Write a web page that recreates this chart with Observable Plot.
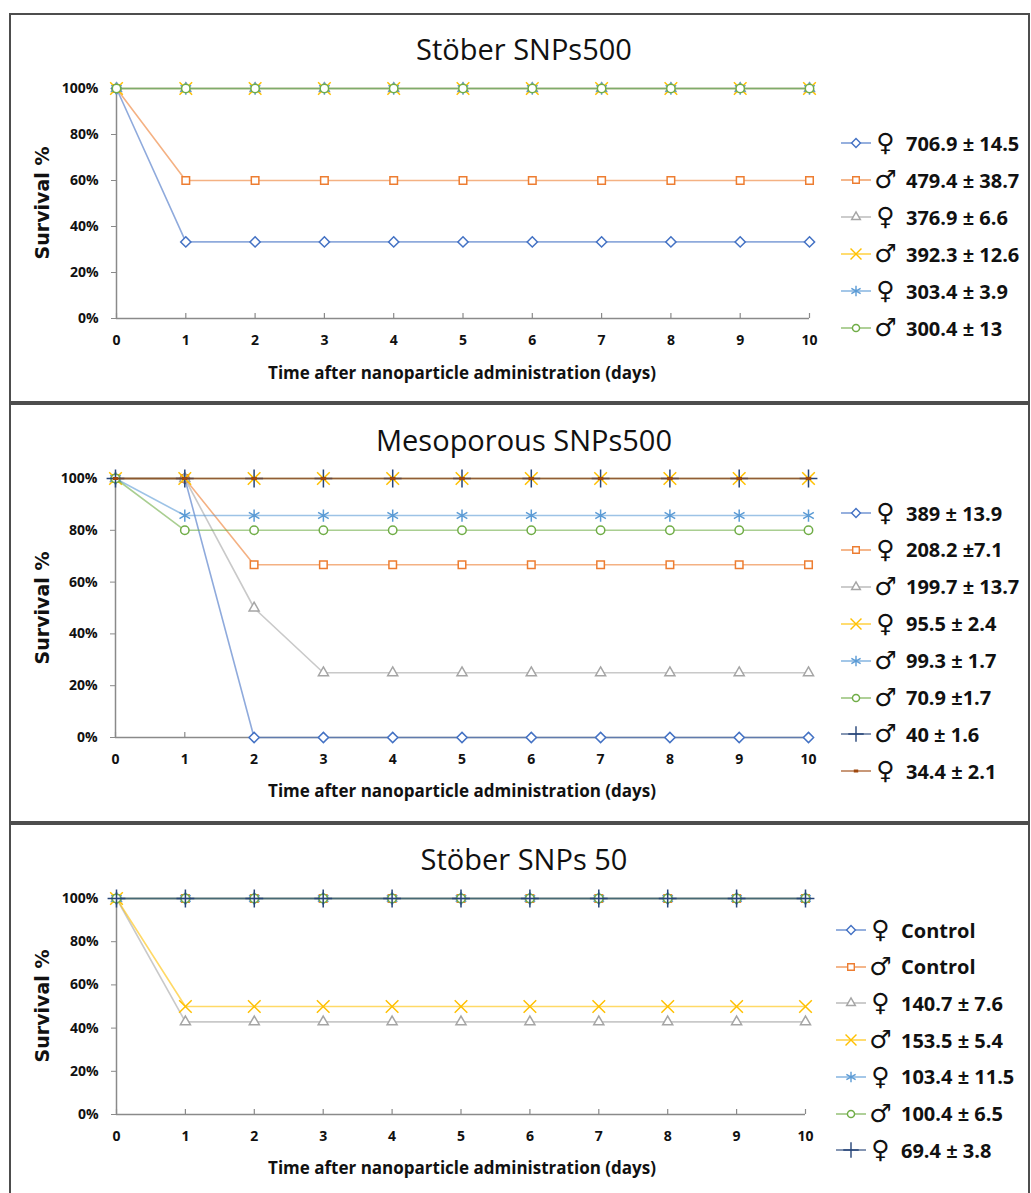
<!DOCTYPE html>
<html><head><meta charset="utf-8">
<script src="https://cdn.jsdelivr.net/npm/d3@7"></script>
<script src="https://cdn.jsdelivr.net/npm/@observablehq/plot@0.6"></script>
<style>
body{margin:0;background:#fff;width:1031px;height:1193px;position:relative;overflow:hidden;font-family:"Open Sans",sans-serif;color:#111}
.panel{position:absolute;left:9px;width:1021px;border:2px solid #4d4d4d;box-sizing:border-box}
.title{position:absolute;font-size:29px;transform:translate(-50%,-50%);white-space:nowrap;color:#111}
.xt{position:absolute;font-weight:bold;font-size:17px;transform:translate(-50%,-50%);white-space:nowrap}
.yt{position:absolute;font-family:"DejaVu Sans",sans-serif;font-weight:bold;font-size:19px;transform:translate(-50%,-50%) rotate(-90deg);white-space:nowrap}
.plot{position:absolute;left:0}
.leg{position:absolute;display:flex;align-items:center;height:30px;transform:translateY(-50%);white-space:nowrap}
.leg svg{display:block}
.sex{font-family:"DejaVu Sans",sans-serif;font-weight:bold;font-size:25px;width:29px;text-align:center;line-height:30px}
.lt{font-weight:bold;font-size:20px;margin-left:6px}
</style></head>
<body>
<script>
// ---- shared ----
const days = [0, 1, 2, 3, 4, 5, 6, 7, 8, 9, 10];
const yTicks = [0, 20, 40, 60, 80, 100];
const colors = ["#4472C4", "#ED7D31", "#A5A5A5", "#FFC000", "#5B9BD5", "#70AD47", "#264478", "#9E480E"];
const symbolNames = ["diamond2", "square2", "triangle2", "times", "asterisk", "circle", "plus", "dash"];
const xTitle = "Time after nanoparticle administration (days)";
const yTitle = "Survival %";

// ---- panel 1: Stöber SNPs500 ----
const p1Title = "Stöber SNPs500";
const p1Sex = ["♀", "♂", "♀", "♂", "♀", "♂"];
const p1Labels = ["706.9 ± 14.5", "479.4 ± 38.7", "376.9 ± 6.6", "392.3 ± 12.6", "303.4 ± 3.9", "300.4 ± 13"];
const p1Values = [
  [100, 33.3, 33.3, 33.3, 33.3, 33.3, 33.3, 33.3, 33.3, 33.3, 33.3],
  [100, 60, 60, 60, 60, 60, 60, 60, 60, 60, 60],
  [100, 100, 100, 100, 100, 100, 100, 100, 100, 100, 100],
  [100, 100, 100, 100, 100, 100, 100, 100, 100, 100, 100],
  [100, 100, 100, 100, 100, 100, 100, 100, 100, 100, 100],
  [100, 100, 100, 100, 100, 100, 100, 100, 100, 100, 100]
];

// ---- panel 2: Mesoporous SNPs500 ----
const p2Title = "Mesoporous SNPs500";
const p2Sex = ["♀", "♀", "♂", "♀", "♂", "♂", "♂", "♀"];
const p2Labels = ["389 ± 13.9", "208.2 ±7.1", "199.7 ± 13.7", "95.5 ± 2.4", "99.3 ± 1.7", "70.9 ±1.7", "40 ± 1.6", "34.4 ± 2.1"];
const p2Values = [
  [100, 100, 0, 0, 0, 0, 0, 0, 0, 0, 0],
  [100, 100, 66.7, 66.7, 66.7, 66.7, 66.7, 66.7, 66.7, 66.7, 66.7],
  [100, 100, 50, 25, 25, 25, 25, 25, 25, 25, 25],
  [100, 100, 100, 100, 100, 100, 100, 100, 100, 100, 100],
  [100, 85.7, 85.7, 85.7, 85.7, 85.7, 85.7, 85.7, 85.7, 85.7, 85.7],
  [100, 80, 80, 80, 80, 80, 80, 80, 80, 80, 80],
  [100, 100, 100, 100, 100, 100, 100, 100, 100, 100, 100],
  [100, 100, 100, 100, 100, 100, 100, 100, 100, 100, 100]
];

// ---- panel 3: Stöber SNPs 50 ----
const p3Title = "Stöber SNPs 50";
const p3Sex = ["♀", "♂", "♀", "♂", "♀", "♂", "♀"];
const p3Labels = ["Control", "Control", "140.7 ± 7.6", "153.5 ± 5.4", "103.4 ± 11.5", "100.4 ± 6.5", "69.4 ± 3.8"];
const p3Values = [
  [100, 100, 100, 100, 100, 100, 100, 100, 100, 100, 100],
  [100, 100, 100, 100, 100, 100, 100, 100, 100, 100, 100],
  [100, 42.9, 42.9, 42.9, 42.9, 42.9, 42.9, 42.9, 42.9, 42.9, 42.9],
  [100, 50, 50, 50, 50, 50, 50, 50, 50, 50, 50],
  [100, 100, 100, 100, 100, 100, 100, 100, 100, 100, 100],
  [100, 100, 100, 100, 100, 100, 100, 100, 100, 100, 100],
  [100, 100, 100, 100, 100, 100, 100, 100, 100, 100, 100]
];

// custom dash symbol
const dashSymbol = {draw(ctx, size) { const w = Math.sqrt(size) * 0.35; ctx.moveTo(-w, 0); ctx.lineTo(w, 0); }};
const plotSymbol = name => name === "dash" ? dashSymbol : name;
const d3Symbols = {diamond2: d3.symbolDiamond2, square2: d3.symbolSquare2, triangle2: d3.symbolTriangle2, times: d3.symbolTimes, asterisk: d3.symbolAsterisk, circle: d3.symbolCircle, plus: d3.symbolPlus, dash: dashSymbol};
const symbolR = {diamond2: 4.6, square2: 4.8, triangle2: 4.8, times: 5.8, asterisk: 5.8, circle: 4.2, plus: 5.8, dash: 4.5};
const legSize = {diamond2: 50, square2: 55, triangle2: 55, times: 80, asterisk: 80, circle: 40, plus: 80, dash: 40};

const axisGray = "#8a8a8a";

function panel(cfg) {
  const {boxTop, boxHeight, title, titleY, x0, x10, y100, y0, xTitleY, sex, labels, values, legX, legY, legStep} = cfg;
  const box = document.createElement("div");
  box.className = "panel";
  box.style.top = boxTop + "px";
  box.style.height = boxHeight + "px";
  document.body.appendChild(box);

  const t = document.createElement("div");
  t.className = "title"; t.textContent = title;
  t.style.left = "524px"; t.style.top = titleY + "px";
  document.body.appendChild(t);

  const W = 840, mt = 30, mb = 45;
  const innerH = y0 - y100;
  const H = innerH + mt + mb;
  const rows = values.flatMap((vals, i) => days.map((d, j) => ({day: d, value: vals[j], s: i})));
  const marks = [
    Plot.ruleX([0], {stroke: axisGray, strokeWidth: 1.5}),
    Plot.ruleY([0], {stroke: axisGray, strokeWidth: 1.5}),
    Plot.tickX(days, {x: d => d, stroke: axisGray, strokeWidth: 1.2, insetTop: innerH - 5}),
    Plot.axisY({ticks: yTicks, tickFormat: d => d + "%", tickSize: 5, tickPadding: 13, stroke: axisGray, label: null}),
    Plot.axisX({ticks: days, tickFormat: d => String(d), tickSize: 0, tickPadding: 17, label: null})
  ];
  values.forEach((vals, i) => {
    const data = rows.filter(r => r.s === i);
    marks.push(Plot.line(data, {x: "day", y: "value", stroke: colors[i], strokeWidth: 1.6, strokeOpacity: 0.6}));
    const sym = symbolNames[i];
    const filled = ["diamond2", "square2", "triangle2", "circle"].includes(sym);
    marks.push(Plot.dot(data, {x: "day", y: "value", symbol: () => plotSymbol(sym), r: symbolR[sym],
      stroke: colors[i], fill: filled ? "white" : "none", strokeWidth: sym === "dash" ? 3 : 1.5}));
  });
  const p = Plot.plot({
    width: W, height: H,
    marginLeft: x0, marginRight: W - x10, marginTop: mt, marginBottom: mb,
    x: {domain: [0, 10]}, y: {domain: [0, 100]},
    symbol: {type: "identity"},
    style: {fontFamily: "'Open Sans', sans-serif", fontSize: "14px", fontWeight: "bold", color: "#111", background: "transparent", overflow: "visible"},
    marks
  });
  p.classList.add("plot");
  p.style.top = (y100 - mt) + "px";
  document.body.appendChild(p);

  const xt = document.createElement("div");
  xt.className = "xt"; xt.textContent = xTitle;
  xt.style.left = "462px"; xt.style.top = xTitleY + "px";
  document.body.appendChild(xt);

  const yt = document.createElement("div");
  yt.className = "yt"; yt.textContent = yTitle;
  yt.style.left = "42px"; yt.style.top = ((y100 + y0) / 2) + "px";
  document.body.appendChild(yt);

  labels.forEach((lab, i) => {
    const row = document.createElement("div");
    row.className = "leg";
    row.style.left = legX + "px";
    row.style.top = (legY + i * legStep) + "px";
    const svg = d3.create("svg").attr("width", 30).attr("height", 20);
    svg.append("line").attr("x1", 0).attr("x2", 30).attr("y1", 10).attr("y2", 10).attr("stroke", colors[i]).attr("stroke-width", 1.6).attr("stroke-opacity", 0.7);
    const sym = symbolNames[i];
    const filled = ["diamond2", "square2", "triangle2", "circle"].includes(sym);
    svg.append("path").attr("transform", "translate(15,10)")
      .attr("d", d3.symbol().type(d3Symbols[sym]).size(legSize[sym])())
      .attr("fill", filled ? "white" : "none").attr("stroke", colors[i]).attr("stroke-width", sym === "dash" ? 3 : 1.4);
    row.appendChild(svg.node());
    const sx = document.createElement("span"); sx.className = "sex"; sx.textContent = sex[i];
    row.appendChild(sx);
    const tx = document.createElement("span"); tx.className = "lt"; tx.textContent = lab;
    row.appendChild(tx);
    document.body.appendChild(row);
  });
}

panel({boxTop: 13, boxHeight: 390, title: p1Title, titleY: 48, x0: 116, x10: 809, y100: 88, y0: 318, xTitleY: 372,
  sex: p1Sex, labels: p1Labels, values: p1Values, legX: 841, legY: 143, legStep: 37});
panel({boxTop: 403, boxHeight: 420, title: p2Title, titleY: 439, x0: 115, x10: 808, y100: 478, y0: 737, xTitleY: 790,
  sex: p2Sex, labels: p2Labels, values: p2Values, legX: 841, legY: 513, legStep: 36.9});
panel({boxTop: 823, boxHeight: 390, title: p3Title, titleY: 858, x0: 116, x10: 805, y100: 898, y0: 1114, xTitleY: 1167,
  sex: p3Sex, labels: p3Labels, values: p3Values, legX: 836, legY: 930, legStep: 36.7});
</script>
</body></html>
